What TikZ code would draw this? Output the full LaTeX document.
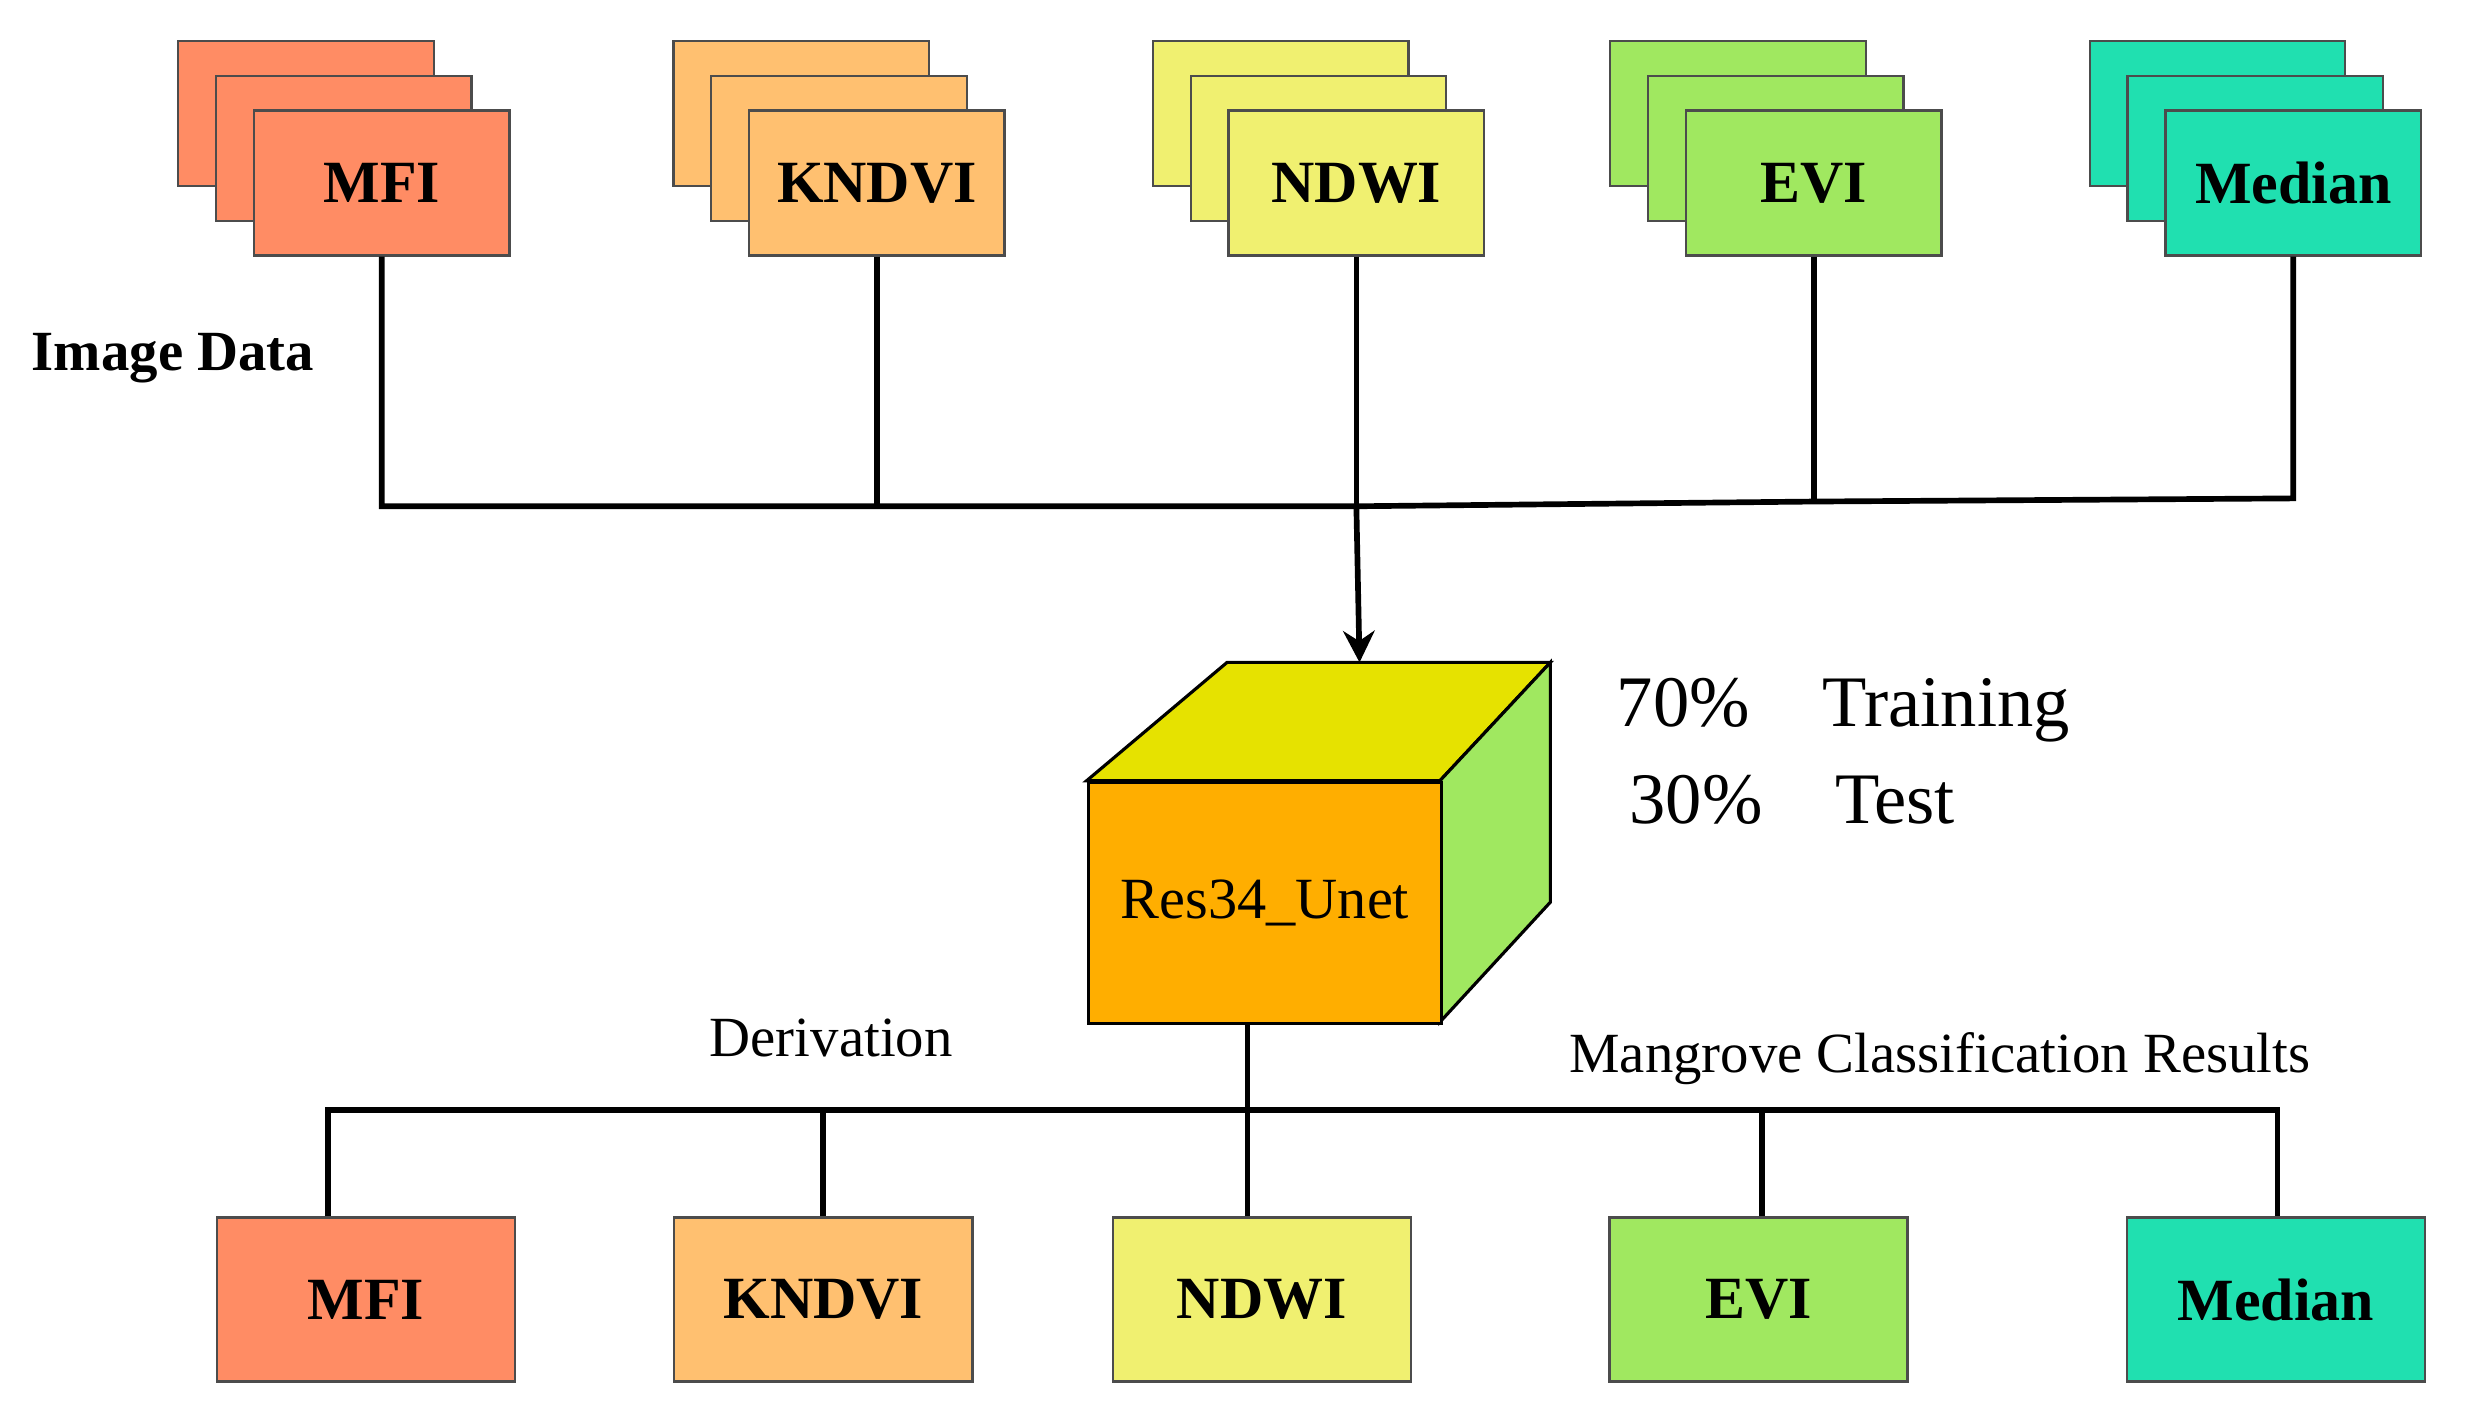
\documentclass[tikz,border=0pt]{standalone}
\usepackage{fontspec}
\usetikzlibrary{arrows.meta}
\setmainfont{Liberation Serif}
\begin{document}
\begin{tikzpicture}[x=1pt,y=-1pt,
  box/.style={draw=black!70,line width=1.5pt,minimum width=162pt,minimum height=92pt,inner sep=0pt,font=\fontsize{38}{40}\selectfont\bfseries},
  bbox/.style={draw=black!70,line width=1.5pt,minimum width=189pt,minimum height=104pt,inner sep=0pt,font=\fontsize{38}{40}\selectfont\bfseries},
  ln/.style={line width=3.6pt},
  lbl/.style={font=\fontsize{36}{38}\selectfont,inner sep=0pt}]
\useasboundingbox[fill=white] (0,0) rectangle (1568,904);
\definecolor{cA}{HTML}{FF8C64}\definecolor{cB}{HTML}{FFC070}\definecolor{cC}{HTML}{F0F070}
\definecolor{cD}{HTML}{A0E860}\definecolor{cE}{HTML}{20E0B0}
\definecolor{cTop}{HTML}{E6E200}\definecolor{cFront}{HTML}{FFAE00}
\foreach \n/\x/\c/\t in {a/242/cA/MFI,b/556/cB/KNDVI,c/860/cC/NDWI,d/1150/cD/EVI,e/1454/cE/Median}{
  \node[box,fill=\c] (\n3) at (\x-48,72) {};
  \node[box,fill=\c] (\n2) at (\x-24,94) {};
  \node[box,fill=\c] (\n) at (\x,116) {\t};
}
\coordinate (ja) at (242,321);\coordinate (jb) at (556,321);\coordinate (jc) at (860,321);
\coordinate (jd) at (1150,318);\coordinate (je) at (1454,316);
\draw[ln] (a.south)--(ja)--(jb)--(jc)--(jd)--(je)--(e.south);
\draw[ln] (b.south)--(jb); \draw[ln] (c.south)--(jc); \draw[ln] (d.south)--(jd);
% cube
\draw[line width=2pt,fill=cTop] (689,495)--(778,420)--(983,420)--(913,495)--cycle;
\draw[line width=2pt,fill=cD] (913,495)--(983,420)--(983,572)--(913,648)--cycle;
\node[draw,line width=2pt,fill=cFront,minimum width=224pt,minimum height=153pt,inner sep=0pt,anchor=north west,font=\fontsize{37}{39}\selectfont] (net) at (689,495) {Res34\_Unet};
\coordinate (top) at (862,420);
\draw[ln,-{Stealth[length=20pt,width=20pt]}] (jc) -- (top);
\node[lbl,font=\fontsize{46}{48}\selectfont,anchor=west] (t1) at (1025,450) {70\%\quad Training};
\node[lbl,font=\fontsize{46}{48}\selectfont,anchor=west] (t2) at (1033,507) {30\%\quad Test};
\node[lbl,anchor=west,font=\fontsize{36}{38}\selectfont\bfseries] (img) at (20,227) {Image Data};
\node[lbl] (der) at (527,658) {Derivation};
\node[lbl] (mcr) at (1230,671) {Mangrove Classification Results};
\foreach \n/\x/\c/\t in {p/232/cA/MFI,q/522/cB/KNDVI,r/800/cC/NDWI,s/1115/cD/EVI,u/1443/cE/Median}{
  \node[bbox,fill=\c] (\n) at (\x,824) {\t};
}
\coordinate (hp) at (208,704);\coordinate (hq) at (522,704);\coordinate (hr) at (791,704);
\coordinate (hs) at (1117,704);\coordinate (hu) at (1444,704);
\draw[ln] (hp|-p.north)--(hp)--(hu)--(hu|-u.north);
\draw[ln] (hq)--(q.north);\draw[ln] (hs)--(hs|-s.north);
\draw[ln] (net.south-|hr)--(hr|-r.north);
\end{tikzpicture}
\end{document}
